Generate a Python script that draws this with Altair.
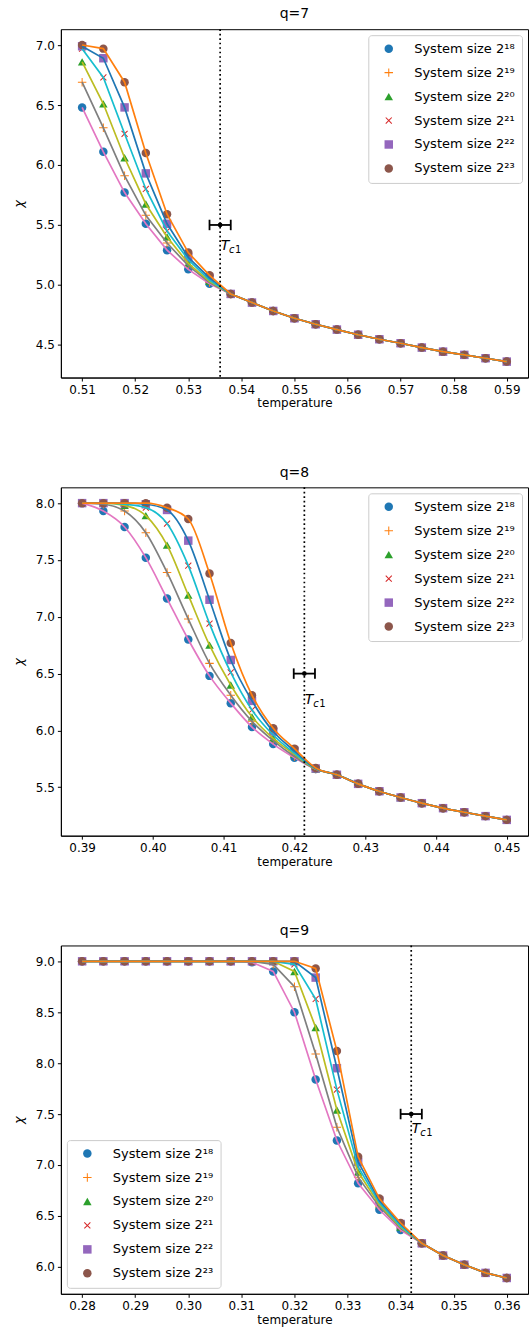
import altair as alt
import pandas as pd

FONT = "DejaVu Sans"

SIZES = ["System size 2¹⁸", "System size 2¹⁹", "System size 2²⁰",
         "System size 2²¹", "System size 2²²", "System size 2²³"]
POINT_COLORS = ["#1f77b4", "#ff7f0e", "#2ca02c", "#d62728", "#9467bd", "#8c564b"]
LINE_COLORS = ["#e377c2", "#7f7f7f", "#bcbd22", "#17becf", "#1f77b4", "#ff7f0e"]

PLUS = ("M-1,-0.12L-0.12,-0.12L-0.12,-1L0.12,-1L0.12,-0.12L1,-0.12L1,0.12"
        "L0.12,0.12L0.12,1L-0.12,1L-0.12,0.12L-1,0.12Z")
CROSS_X = ("M-0.8,-0.63L-0.63,-0.8L0,-0.17L0.63,-0.8L0.8,-0.63L0.17,0L0.8,0.63"
           "L0.63,0.8L0,0.17L-0.63,0.8L-0.8,0.63L-0.17,0Z")
SHAPES = ["circle", PLUS, "triangle-up", CROSS_X, "square", "circle"]

# ---------------- q = 7 ----------------
T7 = [0.510, 0.514, 0.518, 0.522, 0.526, 0.530, 0.534, 0.538, 0.542, 0.546, 0.550,
      0.554, 0.558, 0.562, 0.566, 0.570, 0.574, 0.578, 0.582, 0.586, 0.590]
Q7_18 = [6.48, 6.11, 5.77, 5.51, 5.29, 5.13, 5.01, 4.925, 4.853, 4.783, 4.722,
         4.672, 4.628, 4.585, 4.547, 4.514, 4.478, 4.444, 4.417, 4.389, 4.361]
Q7_19 = [6.69, 6.31, 5.91, 5.58, 5.35, 5.16, 5.02, 4.925, 4.853, 4.783, 4.722,
         4.672, 4.628, 4.585, 4.547, 4.514, 4.478, 4.444, 4.417, 4.389, 4.361]
Q7_20 = [6.86, 6.51, 6.06, 5.675, 5.40, 5.18, 5.03, 4.925, 4.853, 4.783, 4.722,
         4.672, 4.628, 4.585, 4.547, 4.514, 4.478, 4.444, 4.417, 4.389, 4.361]
Q7_21 = [6.97, 6.73, 6.26, 5.80, 5.45, 5.21, 5.04, 4.925, 4.853, 4.783, 4.722,
         4.672, 4.628, 4.585, 4.547, 4.514, 4.478, 4.444, 4.417, 4.389, 4.361]
Q7_22 = [6.99, 6.89, 6.48, 5.93, 5.51, 5.23, 5.06, 4.925, 4.853, 4.783, 4.722,
         4.672, 4.628, 4.585, 4.547, 4.514, 4.478, 4.444, 4.417, 4.389, 4.361]
Q7_23 = [7.00, 6.97, 6.69, 6.10, 5.59, 5.27, 5.08, 4.925, 4.853, 4.783, 4.722,
         4.672, 4.628, 4.585, 4.547, 4.514, 4.478, 4.444, 4.417, 4.389, 4.361]
TC7, TC7_ERR, TC7_BAR_Y, TC7_LABEL_Y = 0.536, 0.002, 5.5, 5.29

# ---------------- q = 8 ----------------
T8 = [0.390, 0.393, 0.396, 0.399, 0.402, 0.405, 0.408, 0.411, 0.414, 0.417, 0.420,
      0.423, 0.426, 0.429, 0.432, 0.435, 0.438, 0.441, 0.444, 0.447, 0.450]
Q8_18 = [8.00, 7.93, 7.79, 7.52, 7.16, 6.80, 6.48, 6.24, 6.03, 5.88, 5.76,
         5.66, 5.61, 5.53, 5.465, 5.41, 5.36, 5.316, 5.28, 5.246, 5.213]
Q8_19 = [8.00, 7.99, 7.93, 7.74, 7.39, 6.98, 6.59, 6.31, 6.08, 5.91, 5.77,
         5.66, 5.61, 5.53, 5.465, 5.41, 5.36, 5.316, 5.28, 5.246, 5.213]
Q8_20 = [8.00, 8.00, 7.98, 7.89, 7.63, 7.19, 6.75, 6.40, 6.12, 5.93, 5.79,
         5.66, 5.61, 5.53, 5.465, 5.41, 5.36, 5.316, 5.28, 5.246, 5.213]
Q8_21 = [8.00, 8.00, 7.99, 7.96, 7.82, 7.45, 6.94, 6.51, 6.18, 5.96, 5.80,
         5.665, 5.61, 5.53, 5.465, 5.41, 5.36, 5.316, 5.28, 5.246, 5.213]
Q8_22 = [8.00, 8.00, 8.00, 7.99, 7.94, 7.67, 7.15, 6.62, 6.26, 5.99, 5.82,
         5.665, 5.61, 5.53, 5.465, 5.41, 5.36, 5.316, 5.28, 5.246, 5.213]
Q8_23 = [8.00, 8.00, 8.00, 8.00, 7.96, 7.86, 7.38, 6.77, 6.31, 6.02, 5.84,
         5.67, 5.61, 5.53, 5.465, 5.41, 5.36, 5.316, 5.28, 5.246, 5.213]
TC8, TC8_ERR, TC8_BAR_Y, TC8_LABEL_Y = 0.4214, 0.0015, 6.5, 6.23

# ---------------- q = 9 ----------------
T9 = [0.280, 0.284, 0.288, 0.292, 0.296, 0.300, 0.304, 0.308, 0.312, 0.316, 0.320,
      0.324, 0.328, 0.332, 0.336, 0.340, 0.344, 0.348, 0.352, 0.356, 0.360]
Q9_18 = [9.0, 9.0, 9.0, 9.0, 9.0, 9.0, 9.0, 9.0, 8.99, 8.90, 8.50,
         7.84, 7.24, 6.82, 6.56, 6.36, 6.23, 6.11, 6.02, 5.94, 5.89]
Q9_19 = [9.0, 9.0, 9.0, 9.0, 9.0, 9.0, 9.0, 9.0, 9.0, 8.97, 8.75,
         8.09, 7.37, 6.88, 6.59, 6.38, 6.23, 6.11, 6.02, 5.94, 5.89]
Q9_20 = [9.0, 9.0, 9.0, 9.0, 9.0, 9.0, 9.0, 9.0, 9.0, 9.0, 8.90,
         8.35, 7.54, 6.93, 6.61, 6.39, 6.23, 6.11, 6.02, 5.94, 5.89]
Q9_21 = [9.0, 9.0, 9.0, 9.0, 9.0, 9.0, 9.0, 9.0, 9.0, 9.0, 8.97,
         8.63, 7.74, 6.98, 6.63, 6.40, 6.23, 6.11, 6.02, 5.94, 5.89]
Q9_22 = [9.0, 9.0, 9.0, 9.0, 9.0, 9.0, 9.0, 9.0, 9.0, 9.0, 9.0,
         8.84, 7.95, 7.03, 6.65, 6.42, 6.23, 6.11, 6.02, 5.94, 5.89]
Q9_23 = [9.0, 9.0, 9.0, 9.0, 9.0, 9.0, 9.0, 9.0, 9.0, 9.0, 9.0,
         8.93, 8.12, 7.08, 6.67, 6.43, 6.23, 6.11, 6.02, 5.94, 5.89]
TC9, TC9_ERR, TC9_BAR_Y, TC9_LABEL_Y = 0.342, 0.002, 7.5, 7.31

X7_TICKS = [0.51, 0.52, 0.53, 0.54, 0.55, 0.56, 0.57, 0.58, 0.59]
Y7_TICKS = [4.5, 5.0, 5.5, 6.0, 6.5, 7.0]
X8_TICKS = [0.39, 0.40, 0.41, 0.42, 0.43, 0.44, 0.45]
Y8_TICKS = [5.5, 6.0, 6.5, 7.0, 7.5, 8.0]
X9_TICKS = [0.28, 0.29, 0.30, 0.31, 0.32, 0.33, 0.34, 0.35, 0.36]
Y9_TICKS = [6.0, 6.5, 7.0, 7.5, 8.0, 8.5, 9.0]

W, H = 468, 349


def panel(title, temps, series, xdom, ydom, xticks, yticks,
          tc, tc_err, bar_y, label_y, legend_orient, interp):
    rows = []
    for name, vals in zip(SIZES, series):
        for t, v in zip(temps, vals):
            rows.append({"temperature": t, "chi": v, "series": name})
    df = pd.DataFrame(rows)

    xs = alt.Scale(domain=xdom, nice=False, zero=False)
    ys = alt.Scale(domain=ydom, nice=False, zero=False)
    x = alt.X("temperature:Q", scale=xs,
              axis=alt.Axis(values=xticks, format=".2f", title="temperature"))
    y = alt.Y("chi:Q", scale=ys,
              axis=alt.Axis(values=yticks, format=".1f", title="χ"))
    leg = alt.Legend(title=None, orient=legend_orient, offset=6)

    pts = alt.Chart(df).mark_point(filled=True, size=72, opacity=1, strokeWidth=0).encode(
        x=x, y=y,
        color=alt.Color("series:N", scale=alt.Scale(domain=SIZES, range=POINT_COLORS),
                        legend=leg, sort=SIZES),
        shape=alt.Shape("series:N", scale=alt.Scale(domain=SIZES, range=SHAPES),
                        legend=leg, sort=SIZES),
    )
    lines = alt.Chart(df).mark_line(strokeWidth=1.7, interpolate=interp).encode(
        x=alt.X("temperature:Q"), y=alt.Y("chi:Q"),
        stroke=alt.Stroke("series:N", scale=alt.Scale(domain=SIZES, range=LINE_COLORS),
                          legend=None),
    )
    one = pd.DataFrame({"k": [0]})
    vline = alt.Chart(one).mark_rule(color="black", strokeWidth=1.7,
                                     strokeDash=[1.7, 2.8]).encode(x=alt.datum(tc))
    bar = alt.Chart(one).mark_rule(color="black", strokeWidth=1.8).encode(
        x=alt.datum(tc - tc_err), x2=alt.datum(tc + tc_err), y=alt.datum(bar_y))
    cap_lo = alt.Chart(one).mark_point(shape="M0,-1L0,1", filled=False, size=110,
                                       strokeWidth=1.8, color="black", opacity=1).encode(
        x=alt.datum(tc - tc_err), y=alt.datum(bar_y))
    cap_hi = alt.Chart(one).mark_point(shape="M0,-1L0,1", filled=False, size=110,
                                       strokeWidth=1.8, color="black", opacity=1).encode(
        x=alt.datum(tc + tc_err), y=alt.datum(bar_y))
    dot = alt.Chart(one).mark_point(shape="circle", filled=True, size=22,
                                    color="black", opacity=1).encode(
        x=alt.datum(tc), y=alt.datum(bar_y))
    t_main = alt.Chart(one).mark_text(text="T", font=FONT, fontSize=14, fontStyle="italic",
                                      align="left", baseline="alphabetic", dx=0.5,
                                      color="black").encode(
        x=alt.datum(tc), y=alt.datum(label_y))
    t_c = alt.Chart(one).mark_text(text="c", font=FONT, fontSize=10, fontStyle="italic",
                                   align="left", baseline="alphabetic", dx=9, dy=3,
                                   color="black").encode(
        x=alt.datum(tc), y=alt.datum(label_y))
    t_1 = alt.Chart(one).mark_text(text="1", font=FONT, fontSize=10,
                                   align="left", baseline="alphabetic", dx=15, dy=3,
                                   color="black").encode(
        x=alt.datum(tc), y=alt.datum(label_y))

    return alt.layer(pts, lines, vline, bar, cap_lo, cap_hi, dot, t_main, t_c, t_1).properties(
        width=W, height=H,
        title=alt.TitleParams(title, font=FONT, fontSize=14, fontWeight="normal",
                              color="black", offset=7),
    )


p7 = panel("q=7", T7, [Q7_18, Q7_19, Q7_20, Q7_21, Q7_22, Q7_23],
           [0.506, 0.594], [4.228, 7.132], X7_TICKS, Y7_TICKS,
           TC7, TC7_ERR, TC7_BAR_Y, TC7_LABEL_Y, "top-right", "linear")
p8 = panel("q=8", T8, [Q8_18, Q8_19, Q8_20, Q8_21, Q8_22, Q8_23],
           [0.387, 0.453], [5.074, 8.139], X8_TICKS, Y8_TICKS,
           TC8, TC8_ERR, TC8_BAR_Y, TC8_LABEL_Y, "top-right", "monotone")
p9 = panel("q=9", T9, [Q9_18, Q9_19, Q9_20, Q9_21, Q9_22, Q9_23],
           [0.276, 0.364], [5.7345, 9.1555], X9_TICKS, Y9_TICKS,
           TC9, TC9_ERR, TC9_BAR_Y, TC9_LABEL_Y, "bottom-left", "linear")

chart = alt.vconcat(p7, p8, p9, spacing=55).resolve_scale(
    x="independent", y="independent", color="independent",
    shape="independent", stroke="independent",
).resolve_legend(color="independent", shape="independent").properties(
    padding={"left": 11, "top": 5, "right": 0, "bottom": 0},
    background="white",
).configure_axis(
    labelFont=FONT, titleFont=FONT, labelFontSize=12, titleFontSize=12,
    titleFontWeight="normal", labelColor="black", titleColor="black",
    domainColor="black", tickColor="black", tickSize=3.5, grid=False,
    labelPadding=3, domainWidth=1, tickWidth=1,
).configure_axisY(titleFontStyle="italic", titlePadding=10, titleFontSize=13).configure_axisX(
    titlePadding=3,
).configure_view(stroke="black", strokeWidth=1).configure_legend(
    labelFont=FONT, labelFontSize=13, labelColor="black",
    fillColor="white", strokeColor="#cccccc", cornerRadius=3, padding=7,
    rowPadding=10, symbolSize=72, symbolStrokeWidth=0, labelOffset=19,
    symbolOffset=7,
)

chart.save("out.html", embed_options={"renderer": "svg", "actions": False})
